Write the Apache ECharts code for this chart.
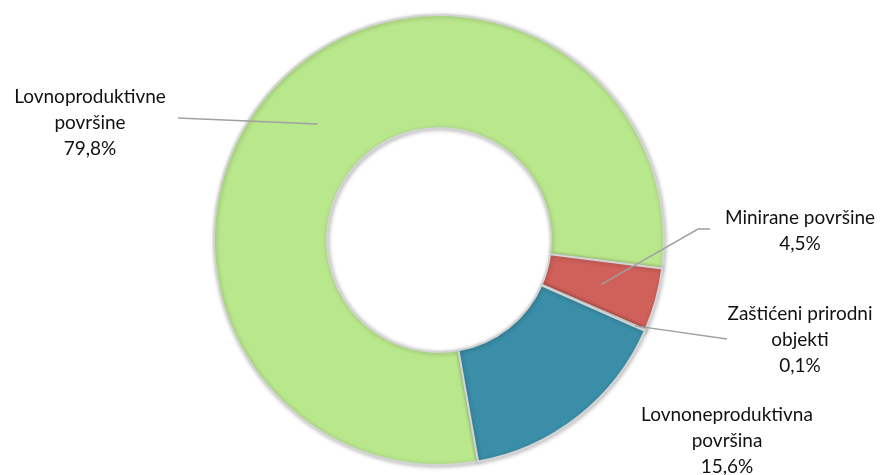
<!DOCTYPE html>
<html>
<head>
<meta charset="utf-8">
<script src="https://cdn.jsdelivr.net/npm/echarts@6/dist/echarts.min.js"></script>
<style>html,body{margin:0;padding:0;background:#fff}#c{width:891px;height:475px}</style>
</head>
<body>
<div id="c"></div>
<script>
var categories = ['Lovnoproduktivne\npovršine', 'Minirane površine', 'Zaštićeni prirodni\nobjekti', 'Lovnoneproduktivna\npovršina'];
var values = [79.8, 4.5, 0.1, 15.6];
var colors = ['#b8e78c', '#d0605a', '#bfbfbf', '#3a8ea8'];

var CX = 439, CY = 240, R_IN = 112, R_OUT = 225, START = 280;
// label anchor (center x, middle y) and leader end points
var labelPos = [[90, 123], [800, 231], [800, 340], [727, 441]];
var lineEnds = [[[178, 118]], [[698, 229], [710, 229]], [[727, 339]], null];
var lineStartR = [168, 168, 214, 0];

var total = values.reduce(function(a, b) { return a + b; }, 0);
var mids = [];
(function() {
  var acc = 0;
  for (var i = 0; i < values.length; i++) {
    var a = START - (acc + values[i] / 2) / total * 360;
    mids.push(a * Math.PI / 180);
    acc += values[i];
  }
})();

var chart = echarts.init(document.getElementById('c'));
chart.setOption({
  animation: false,
  series: [{
    type: 'pie',
    z: 2,
    silent: true,
    center: [CX, CY],
    radius: [R_IN, R_OUT],
    startAngle: START,
    clockwise: true,
    data: categories.map(function(n, i) {
      return { name: n, value: values[i], itemStyle: { color: colors[i] } };
    }),
    itemStyle: {
      borderColor: '#d4d4d4',
      borderWidth: 2,
      shadowBlur: 4,
      shadowColor: 'rgba(0,0,0,0.25)',
      shadowOffsetX: 1,
      shadowOffsetY: 1
    },
    label: { show: false },
    labelLine: { show: false }
  }, {
    type: 'pie',
    z: 5,
    silent: true,
    center: [CX, CY],
    radius: [R_IN, R_OUT],
    startAngle: START,
    clockwise: true,
    avoidLabelOverlap: false,
    data: categories.map(function(n, i) {
      return { name: n, value: values[i] };
    }),
    itemStyle: { color: 'rgba(0,0,0,0)', borderWidth: 0 },
    label: {
      show: true,
      position: 'outside',
      fontFamily: 'Lato',
      fontSize: 19,
      lineHeight: 26,
      color: '#111',
      align: 'center',
      formatter: function(p) {
        return p.name + '\n' + p.value.toFixed(1).replace('.', ',') + '%';
      }
    },
    labelLine: {
      show: true,
      lineStyle: { color: '#a0a0a0', width: 1.5 }
    },
    labelLayout: function(p) {
      var i = p.dataIndex;
      var res = {
        x: labelPos[i][0],
        y: labelPos[i][1],
        align: 'center',
        verticalAlign: 'middle'
      };
      if (lineEnds[i]) {
        var s = [CX + lineStartR[i] * Math.cos(mids[i]), CY - lineStartR[i] * Math.sin(mids[i])];
        var pts = [s].concat(lineEnds[i]);
        if (pts.length < 3) pts.push(pts[pts.length - 1]);
        res.labelLinePoints = pts;
      } else {
        var q = [CX + R_OUT * Math.cos(mids[i]), CY - R_OUT * Math.sin(mids[i])];
        res.labelLinePoints = [q, q, q];
      }
      return res;
    }
  }]
});
</script>
</body>
</html>
